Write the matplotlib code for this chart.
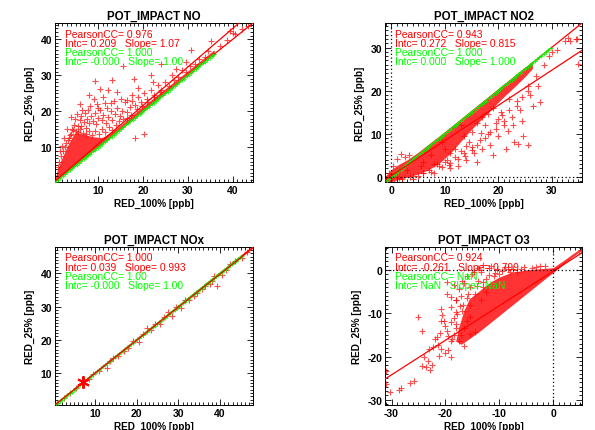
import matplotlib
matplotlib.use("Agg")
import matplotlib.pyplot as plt
from matplotlib.ticker import MultipleLocator

plt.rcParams['font.family'] = ['Liberation Sans', 'DejaVu Sans']
plt.rcParams['axes.unicode_minus'] = False

# ---------------- NO ----------------
no_lim = [0.4, 44.5]
# outline of the solid red cloud (too dense to list point by point)
no_core_x = [0.4, 0.9, 1.7, 2.4, 3.0, 3.6, 4.3, 5.0, 6.0, 7.5, 9.0, 11.0, 13.0, 15.0, 19.0, 24.0, 29.0, 33.0, 36.0, 36.0, 30.0, 20.0, 10.0, 4.0, 1.0]
no_core_y = [0.4, 3.0, 5.9, 7.8, 9.5, 11.0, 12.6, 14.0, 13.8, 13.3, 12.8, 12.6, 14.0, 15.9, 20.1, 25.1, 30.0, 34.0, 36.9, 35.8, 29.7, 19.7, 9.8, 3.8, 0.8]
no_x = [3.2, 3.8, 4.2, 4.6, 5.0, 5.6, 5.9, 6.3, 6.8, 7.2, 7.5, 7.9, 8.4, 8.8, 9.3, 9.6, 10.0, 10.5, 10.8, 11.2,
        11.8, 12.3, 12.8, 13.2, 13.7, 14.3, 14.8, 15.3, 15.9, 16.4, 17.0, 17.6, 18.2, 18.8, 19.5, 20.3, 21.0, 21.8,
        22.5, 23.3, 24.1, 25.0, 25.8, 26.8, 27.8, 28.7, 29.6, 30.5, 31.5, 32.5, 33.8, 34.5, 35.5, 37.2, 38.6, 40.4,
        42.0, 43.3,
        30.8, 27.4, 24.0, 21.8, 15.6, 13.0, 9.3, 10.4, 12.3, 14.2, 11.0, 9.0, 8.3, 9.8, 11.5, 6.5, 5.2, 7.0, 19.0,
        17.5, 16.5, 22.3, 26.5, 35.2, 40.0, 20.2, 29.5, 18.0, 13.5, 8.0, 6.0, 4.0, 3.0, 2.5, 2.0, 1.5, 12.0, 15.0,
        39.4, 18.2,
        1.0, 1.3, 1.8, 2.2, 2.6, 2.9, 3.5, 4.0, 4.5, 5.5, 6.0, 6.6, 7.3, 8.0, 8.7, 9.4, 10.2, 10.9, 11.6, 12.4,
        13.1, 13.9, 14.6, 15.6, 16.4, 17.3, 18.6, 19.8, 21.0, 22.4, 23.8, 6.2, 7.8, 10.0, 12.8, 4.8]
no_y = [12.0, 13.5, 15.0, 16.2, 14.5, 15.8, 17.5, 16.0, 17.0, 15.5, 18.0, 16.8, 18.6, 17.2, 19.5, 16.5, 18.2, 20.5, 17.5, 19.0,
        16.8, 18.5, 20.2, 17.5, 19.2, 21.0, 18.8, 20.0, 22.5, 19.8, 21.2, 23.0, 21.8, 24.0, 22.6, 25.2, 23.5, 25.8,
        24.6, 27.2, 26.0, 28.2, 27.0, 28.6, 29.5, 31.5, 30.8, 32.5, 33.0, 34.6, 35.0, 36.8, 35.8, 38.2, 39.8, 41.5,
        42.8, 43.8,
        36.9, 31.8, 33.2, 30.0, 32.7, 28.8, 28.5, 26.2, 26.0, 25.5, 24.0, 23.5, 21.5, 22.0, 22.3, 20.5, 19.2, 19.5, 26.5,
        24.5, 23.2, 28.0, 30.2, 39.6, 41.8, 13.6, 33.8, 29.0, 23.0, 24.5, 22.0, 18.5, 15.0, 12.5, 10.5, 9.0, 21.0, 23.5,
        42.4, 12.6,
        4.5, 6.0, 7.5, 9.0, 10.2, 11.3, 12.6, 13.8, 14.8, 14.2, 15.0, 14.0, 13.6, 14.5, 13.5, 14.6, 13.6, 15.0, 14.2, 15.6,
        14.8, 16.2, 17.3, 17.8, 18.2, 19.0, 20.6, 21.5, 22.6, 24.0, 25.3, 18.8, 20.3, 21.0, 22.4, 17.8]
no_green = [0.5, 1.0, 1.6, 2.1, 2.6, 3.1, 3.7, 4.2, 4.7, 5.2, 5.7, 6.3, 6.8, 7.3, 7.8, 8.3, 8.9, 9.4, 9.9, 10.4,
            10.9, 11.5, 12.0, 12.5, 13.0, 13.5, 14.1, 14.6, 15.1, 15.6, 16.1, 16.7, 17.2, 17.7, 18.2, 18.7, 19.3,
            19.8, 20.3, 20.8, 21.3, 21.9, 22.4, 22.9, 23.4, 23.9, 24.5, 25.0, 25.5, 26.0, 26.5, 27.1, 27.6, 28.1,
            28.6, 29.1, 29.7, 30.2, 30.7, 31.2, 31.7, 32.3, 32.8, 33.3, 33.8, 34.3, 34.9, 35.4, 35.8]
no_red_fit = [0.209, 1.07]
no_green_fit = [0.0, 1.0]
no_text = ["PearsonCC= 0.976", "Intc= 0.209   Slope= 1.07", "PearsonCC= 1.000", "Intc= -0.000   Slope= 1.00"]

# ---------------- NO2 ----------------
no2_lim = [-1.2, 35.7]
no2_core_x = [-1.1, 1.0, 3.0, 5.0, 7.0, 9.0, 11.0, 13.0, 15.0, 17.0, 19.0, 21.0, 23.0, 25.0, 26.5, 26.5, 20.0, 10.0, 5.0, 3.0, 1.5, 0.0, -1.1]
no2_core_y = [-1.1, -0.9, -0.2, 0.5, 1.5, 3.0, 5.2, 8.0, 10.8, 13.3, 15.8, 18.3, 20.6, 23.0, 25.0, 26.7, 20.3, 10.3, 5.5, 3.8, 2.8, 1.5, 0.0]
no2_x = [34.7, 32.5, 35.0, 27.8, 24.6, 25.6, 23.7, 23.0, 21.8, 21.0, 19.5, 17.5, 20.5, 22.5, 24.0, 24.5, 23.5, 26.0,
         25.5, 22.0, 19.0, 18.0, 16.0, 15.0, 13.5, 14.5, 16.5, 17.0, 18.5, 13.0, 12.0, 11.0, 10.0, 9.0, 8.5, 7.0,
         6.0, 20.0, 21.5, 19.0, 15.5, 16.0, 14.0, 12.5, 11.0, 13.0, 17.0, 27.0, 28.5, 29.5, 31.0, 30.0, 33.5, 27.5,
         26.5, 22.8, 20.0, 18.0, 15.0, 1.8, 1.0, 2.5, 3.2, 0.3, -0.5, -0.9, 0.2, 1.5, 3.5, 5.0, 8.0, 4.0, 10.0,
         9.5, 7.5, 6.0, 33.1, 34.6,
         2.0, 4.0, 6.0, 7.5, 9.5, 11.0, 12.5, 13.5, 15.0, 16.0, 17.5, 18.5, 19.5, 21.0, 22.0, 23.5, 24.5, 25.5,
         3.0, 5.5, 8.0, 10.5, 12.0, 14.0, 16.8, 20.8, 10.8, 13.8]
no2_y = [32.0, 31.6, 26.2, 17.3, 9.5, 7.5, 7.6, 8.0, 10.7, 12.0, 12.5, 12.0, 15.0, 14.0, 15.5, 13.0, 17.5, 19.0,
         21.0, 18.0, 16.0, 14.5, 12.5, 10.5, 9.5, 8.0, 8.5, 6.5, 7.5, 6.0, 4.5, 5.5, 3.5, 2.5, 3.0, 1.5,
         1.0, 9.5, 6.5, 5.0, 5.5, 3.5, 4.0, 2.5, 2.0, 12.0, 14.0, 23.5, 26.0, 28.0, 29.5, 29.0, 31.5, 21.0,
         16.5, 12.0, 13.5, 10.0, 7.0, 5.3, 4.1, 4.5, 5.0, 2.5, 1.0, -1.0, -0.9, -0.3, 0.0, 0.3, 1.0, -0.5, 6.5,
         8.0, 5.0, 3.5, 32.2, 32.0,
         -0.5, 0.2, 0.8, 1.2, 2.2, 3.2, 4.2, 5.5, 6.3, 7.5, 9.0, 10.5, 11.0, 13.0, 15.5, 16.5, 18.5, 20.0,
         1.5, 2.5, 3.0, 4.0, 6.5, 7.2, 10.2, 14.4, 2.8, 4.8]
no2_green = [-0.9, -0.5, 0.0, 0.4, 0.8, 1.3, 1.7, 2.1, 2.6, 3.0, 3.4, 3.9, 4.3, 4.7, 5.2, 5.6, 6.0, 6.5, 6.9, 7.3,
             7.8, 8.2, 8.6, 9.1, 9.5, 9.9, 10.4, 10.8, 11.2, 11.7, 12.1, 12.5, 13.0, 13.4, 13.8, 14.3, 14.7, 15.1,
             15.6, 16.0, 16.4, 16.9, 17.3, 17.7, 18.2, 18.6, 19.0, 19.5, 19.9, 20.3, 20.8, 21.2, 21.6, 22.1, 22.5,
             22.9, 23.4, 23.8, 24.2, 24.7, 25.1, 25.5, 26.0, 26.4, 26.8, 27.3, 27.7, 28.1, 28.6, 29.0, 29.4, 29.9]
no2_red_fit = [0.272, 0.815]
no2_green_fit = [0.0, 1.0]
no2_text = ["PearsonCC= 0.943", "Intc= 0.272   Slope= 0.815", "PearsonCC= 1.000", "Intc= 0.000   Slope= 1.000"]

# ---------------- NOx ----------------
nox_lim = [0.4, 47.9]
nox_x = [1.0, 2.5, 4.0, 5.5, 8.5, 9.5, 11.0, 12.9, 13.5, 14.2, 15.5, 17.0, 18.0, 19.0, 20.5, 21.5, 22.5, 23.5, 24.5,
         25.5, 26.5, 27.5, 28.5, 29.5, 30.6, 31.5, 32.5, 33.7, 34.5, 35.7, 36.5, 37.5, 38.1, 39.3, 38.5, 40.5, 41.5,
         42.5, 43.7, 45.3, 46.5]
nox_y = [1.1, 2.4, 4.1, 5.4, 8.3, 9.8, 10.7, 11.5, 13.7, 14.6, 15.2, 16.6, 17.6, 19.6, 19.3, 21.8, 23.5, 22.8, 24.8,
         24.8, 26.9, 28.3, 27.3, 29.8, 29.7, 31.9, 32.0, 33.2, 34.0, 35.2, 36.2, 36.9, 37.7, 36.2, 39.2, 39.6, 41.0,
         42.8, 43.7, 44.7, 46.3]
nox_green = [0.6, 1.1, 1.5, 2.0, 2.5, 3.0, 3.4, 3.9, 4.4, 4.9, 5.3, 5.8, 6.3, 6.8, 7.2, 7.7, 8.2, 8.7, 9.1, 9.6,
             10.1, 10.6, 11.0, 11.5, 12.0, 12.5, 12.9, 13.4, 13.9, 14.4, 14.8, 15.3, 15.8, 16.3, 16.7, 17.2, 17.7,
             18.2, 18.6, 19.1, 19.6, 20.1, 20.5, 21.0, 21.5, 22.0, 22.4, 22.9, 23.4, 23.9, 24.3, 24.8, 25.3, 25.8,
             26.2, 26.7, 27.2, 27.7, 28.1, 28.6, 29.1, 29.6, 30.0, 30.5, 31.0, 31.5, 31.9, 32.4, 32.9, 33.4, 33.8,
             34.3, 34.8, 35.3, 35.7, 36.2, 36.7, 37.2, 37.6, 38.1, 38.6, 39.1, 39.5, 40.0, 40.5, 41.0, 41.4, 41.9,
             42.4, 42.9, 43.3, 43.8, 44.3, 44.8, 45.2]
nox_mean = [7.2, 7.2]
nox_red_fit = [0.039, 0.993]
nox_green_fit = [0.0, 1.0]
nox_text = ["PearsonCC= 1.000", "Intc= 0.039   Slope= 0.993", "PearsonCC= 1.00", "Intc= -0.000   Slope= 1.00"]

# ---------------- O3 ----------------
o3_lim = [-31.2, 5.3]
o3_core_x = [5.2, 3.0, 1.0, -1.0, -3.5, -6.0, -8.5, -11.0, -13.5, -15.5, -17.0, -18.0, -17.5, -16.5, -15.5, -13.5, -11.7, -10.0, -8.0, -5.0, -2.0, 0.0, 2.0, 4.0, 5.2]
o3_core_y = [4.3, 2.3, 0.2, -1.7, -4.2, -6.7, -9.2, -11.7, -14.2, -16.0, -17.3, -16.5, -13.5, -9.5, -6.8, -4.8, -3.0, -1.8, -0.8, -0.1, 0.2, 0.4, 2.1, 3.9, 4.9]
o3_x = [-12.0, -10.5, -9.0, -8.0, -7.5, -13.5, -15.0, -14.0, -12.5, -11.0, -16.5, -15.5, -17.5, -13.0, -14.5, -16.0,
        -18.0, -19.0, -18.1, -17.4, -18.1, -19.0, -16.0, -15.4, -16.6, -15.4, -14.5, -17.0, -15.5, -13.5, -12.5,
        -20.8, -20.2, -20.7, -20.8, -19.8, -19.8, -21.4, -20.8, -20.1, -19.5, -23.0, -22.3, -24.3, -23.6, -22.9,
        -22.5, -23.2, -24.0, -25.1, -24.4, -26.6, -25.8, -28.7, -28.2, -30.3, -31.1, -31.0, -19.0, -18.5, -17.5,
        -19.8, -21.5, -18.0, -10.0, -6.0, -4.0, -2.5, -14.8, 5.1,
        -16.5, -17.2, -18.0, -18.8, -19.5, -18.5, -17.8, -16.8, -17.2, -15.8, -14.2, -13.0, -12.0, -10.8, -9.5,
        -8.5, -6.8, -5.5, -3.2, -1.5, -11.5, -13.0, -14.0, -16.0, -17.0, -18.5, -19.0, -20.0, -21.0, -22.0,
        -21.2, -19.0]
o3_y = [0.5, 0.3, 0.6, -0.5, 0.2, -0.5, -1.0, -2.5, -2.0, -1.5, -3.0, -4.0, -4.5, -4.0, -5.5, -6.5,
        -7.0, -6.2, -6.9, -8.3, -9.8, -12.0, -11.7, -10.9, -13.3, -14.8, -14.4, -9.5, -8.0, -7.0, -5.0,
        -11.7, -11.9, -10.4, -9.1, -2.85, -5.5, -17.4, -18.2, -19.3, -18.6, -18.2, -17.9, -22.1, -22.5, -23.0,
        -21.9, -21.1, -20.0, -10.9, -14.0, -26.2, -25.6, -27.7, -27.3, -28.3, -26.3, -23.3, -16.5, -15.0, -16.5,
        -14.0, -15.5, -12.5, -1.0, 0.3, 0.4, 0.8, -0.5, 4.7,
        -17.5, -15.0, -13.5, -16.0, -15.2, -11.0, -10.2, -8.0, -6.0, -5.5, -3.8, -2.8, -1.2, -0.8, -0.3,
        0.2, -0.4, 0.6, 0.6, 1.0, 0.9, 1.2, 0.4, -1.5, -2.5, -3.5, -8.5, -13.0, -14.5, -16.0,
        -19.8, -20.0]
o3_red_fit = [-0.261, 0.799]
o3_text = ["PearsonCC= 0.924", "Intc= -0.261   Slope= 0.799", "PearsonCC= NaN", "Intc= NaN   Slope= NaN"]


def draw_panel(rect, title, lim, core_x, core_y, red_x, red_y, green, red_fit, green_fit, texts, ticks, one_to_one=True):
	ax = fig.add_axes(rect)
	ax.set_xlim(lim)
	ax.set_ylim(lim)

	ax.fill(core_x, core_y, color='red', alpha=0.8, lw=0, zorder=1)
	ax.plot(red_x, red_y, '+', color='red', ms=4.5, mew=0.8, alpha=0.7, ls='none', zorder=2)
	if green:
		ax.plot(green, green, '+', color='#00ff00', ms=3.4, mew=0.8, alpha=0.8, ls='none', zorder=3)

	if one_to_one:
		ax.plot(lim, lim, color='red', lw=0.9, zorder=4)
	if green_fit:
		gx = [min(green), max(green)]
		ax.plot(gx, [green_fit[0] + green_fit[1] * v for v in gx], color='#00ff00', lw=0.9, zorder=4.5)
	ax.plot(lim, [red_fit[0] + red_fit[1] * v for v in lim], color='red', lw=0.9, zorder=5)

	# zero lines (only visible when 0 is inside the range)
	ax.axvline(0, color='black', ls=(0, (1, 2)), lw=0.9, zorder=6)
	ax.axhline(0, color='black', ls=(0, (1, 2)), lw=0.9, zorder=6)

	colors = ['red', 'red', '#00ff00', '#00ff00']
	for i in range(4):
		ax.annotate(texts[i], xy=(0, 1), xycoords='axes fraction', xytext=(10, -10.5 - i * 9.1),
			textcoords='offset pixels', va='center', ha='left', color=colors[i], fontsize=7.4, zorder=7)

	ax.set_title(title, fontsize=8.3, fontweight='bold', pad=3)
	ax.set_xlabel('RED_100% [ppb]', fontsize=7.2, fontweight='bold', labelpad=2)
	ax.set_ylabel('RED_25% [ppb]', fontsize=7.2, fontweight='bold', labelpad=4)

	ax.set_xticks(ticks)
	ax.set_yticks(ticks)
	ax.xaxis.set_minor_locator(MultipleLocator(1))
	ax.yaxis.set_minor_locator(MultipleLocator(1))
	ax.tick_params(which='both', direction='in', top=True, right=True, width=0.6)
	ax.tick_params(which='major', length=4, pad=2, labelsize=7.5)
	ax.tick_params(which='minor', length=2)
	for lab in ax.get_xticklabels() + ax.get_yticklabels():
		lab.set_fontweight('bold')
	for s in ax.spines.values():
		s.set_linewidth(0.7)
	return ax


fig = plt.figure(figsize=(5.95, 4.31), dpi=100)

draw_panel([0.0924, 0.5754, 0.3328, 0.3689], 'POT_IMPACT NO', no_lim, no_core_x, no_core_y, no_x, no_y,
	no_green, no_red_fit, no_green_fit, no_text, [10, 20, 30, 40])
draw_panel([0.6471, 0.5754, 0.3311, 0.3689], 'POT_IMPACT NO2', no2_lim, no2_core_x, no2_core_y, no2_x, no2_y,
	no2_green, no2_red_fit, no2_green_fit, no2_text, [0, 10, 20, 30])
ax3 = draw_panel([0.0924, 0.0580, 0.3328, 0.3666], 'POT_IMPACT NOx', nox_lim, [], [], nox_x, nox_y,
	nox_green, nox_red_fit, nox_green_fit, nox_text, [10, 20, 30, 40])
ax3.plot(nox_mean[0], nox_mean[1], marker=(6, 2, 0), color='red', ms=9, mew=1.4, zorder=6)
draw_panel([0.6471, 0.0580, 0.3311, 0.3666], 'POT_IMPACT O3', o3_lim, o3_core_x, o3_core_y, o3_x, o3_y,
	[], o3_red_fit, None, o3_text, [-30, -20, -10, 0], one_to_one=False)

plt.savefig('out.png', dpi=100)
